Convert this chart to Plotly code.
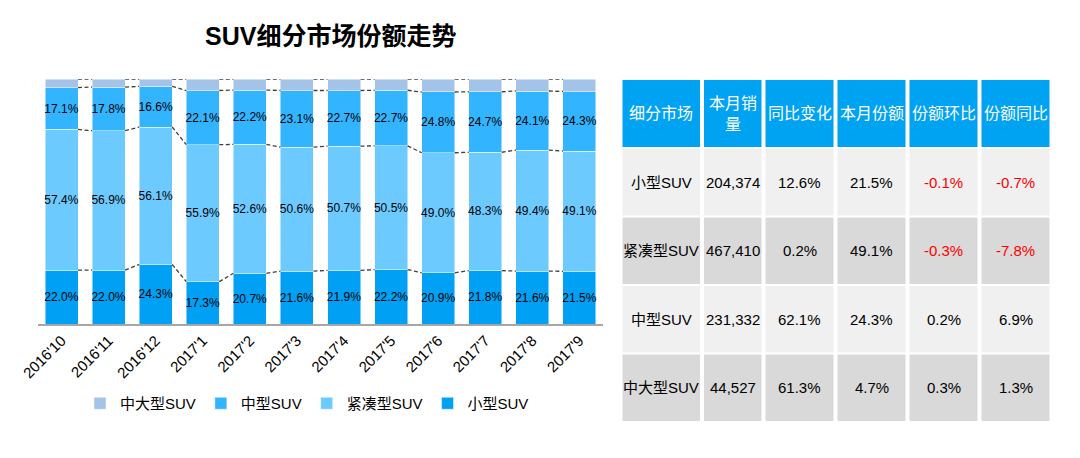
import plotly.graph_objects as go

categories = ["2016'10", "2016'11", "2016'12", "2017'1", "2017'2", "2017'3",
              "2017'4", "2017'5", "2017'6", "2017'7", "2017'8", "2017'9"]
small = [22.0, 22.0, 24.3, 17.3, 20.7, 21.6, 21.9, 22.2, 20.9, 21.8, 21.6, 21.5]
compact = [57.4, 56.9, 56.1, 55.9, 52.6, 50.6, 50.7, 50.5, 49.0, 48.3, 49.4, 49.1]
mid = [17.1, 17.8, 16.6, 22.1, 22.2, 23.1, 22.7, 22.7, 24.8, 24.7, 24.1, 24.3]
large = [round(100 - a - b - c, 1) for a, b, c in zip(small, compact, mid)]

series_names = ["小型SUV", "紧凑型SUV", "中型SUV", "中大型SUV"]
colors = ["#00A0F4", "#6DCAFF", "#33B4FF", "#A3C3E8"]

tbl_header = ["细分市场", "本月销<br>量", "同比变化", "本月份额", "份额环比", "份额同比"]
tbl_segment = ["小型SUV", "紧凑型SUV", "中型SUV", "中大型SUV"]
tbl_sales = ["204,374", "467,410", "231,332", "44,527"]
tbl_yoy = ["12.6%", "0.2%", "62.1%", "61.3%"]
tbl_share = ["21.5%", "49.1%", "24.3%", "4.7%"]
tbl_share_mom = ["-0.1%", "-0.3%", "0.2%", "0.3%"]
tbl_share_yoy = ["-0.7%", "-7.8%", "6.9%", "1.3%"]

FONT = "Liberation Sans, Arial, Noto Sans CJK SC, sans-serif"
W, H = 1080, 458
OX, OY = 8, 8  # page body margin offset


def px(x):
    return (x - OX) / W


def py(y):
    return 1 - (y - OY) / H


fig = go.Figure()
xs = list(range(len(categories)))
BW = 0.70
stack = [small, compact, mid, large]
for i, (vals, name, col) in enumerate(zip(stack, series_names, colors)):
    fig.add_trace(go.Bar(
        x=xs, y=vals, name=name, width=BW,
        marker=dict(color=col, line=dict(color="rgba(255,255,255,0.6)", width=0.8)),
        text=[f"{v:.1f}%" for v in vals] if i < 3 else None,
        textposition="inside" if i < 3 else "none",
        insidetextanchor="middle", textangle=0, constraintext="none",
        textfont=dict(color="black", size=12, family=FONT),
        hoverinfo="skip",
    ))

# dashed connector lines at segment boundaries
cum = [0.0] * len(categories)
for vals in stack:
    cum = [c + v for c, v in zip(cum, vals)]
    lx, ly = [], []
    for j in range(len(categories) - 1):
        lx += [xs[j] + BW / 2, xs[j + 1] - BW / 2, None]
        ly += [cum[j], cum[j + 1], None]
    fig.add_trace(go.Scatter(x=lx, y=ly, mode="lines", showlegend=False,
                             line=dict(color="#404040", width=1.3, dash="4px,2.5px"),
                             hoverinfo="skip"))

fig.update_layout(
    barmode="stack",
    width=W, height=H,
    margin=dict(l=0, r=0, t=0, b=0, autoexpand=False),
    paper_bgcolor="white", plot_bgcolor="white",
    font=dict(family=FONT, color="black"),
    xaxis=dict(domain=[px(38), px(603)], range=[-0.5, len(categories) - 0.5],
               tickvals=xs, ticktext=categories, tickangle=-45, automargin=False,
               tickfont=dict(size=15, color="black"),
               showline=True, linecolor="#A6A6A6", linewidth=2,
               showgrid=False, zeroline=False, ticks=""),
    yaxis=dict(domain=[py(324), py(79)], range=[0, 100], automargin=False,
               visible=False, showgrid=False),
    legend=dict(orientation="h", traceorder="reversed",
                x=px(80), y=py(387), xanchor="left", yanchor="top",
                font=dict(size=15, color="black"),
                itemwidth=30),
    showlegend=True,
)

fig.add_annotation(text="<b>SUV细分市场份额走势</b>", xref="paper", yref="paper",
                   x=px(330), y=py(36), xanchor="center", yanchor="middle",
                   showarrow=False, font=dict(size=25, color="black", family=FONT))

# ---- table drawn with shapes + annotations ----
col_w = [77.5, 57.5, 68, 68, 68, 68]
col_gap = 4
row_gap = 2
header_h = 67
row_h = 66.5
tx0, ty0 = 622.5, 80
row_fill = ["#F0F0F0", "#D9D9D9", "#F0F0F0", "#D9D9D9"]
cols = [tbl_segment, tbl_sales, tbl_yoy, tbl_share, tbl_share_mom, tbl_share_yoy]

x_left = []
x = tx0
for w in col_w:
    x_left.append(x)
    x += w + col_gap

for c, (xl, w) in enumerate(zip(x_left, col_w)):
    fig.add_shape(type="rect", xref="paper", yref="paper",
                  x0=px(xl), x1=px(xl + w), y0=py(ty0 + header_h), y1=py(ty0),
                  fillcolor="#00A2F2", line=dict(width=0), layer="below")
    fig.add_annotation(text=tbl_header[c], xref="paper", yref="paper",
                       x=px(xl + w / 2), y=py(ty0 + header_h / 2),
                       xanchor="center", yanchor="middle", showarrow=False,
                       font=dict(size=16, color="white", family=FONT))
    for r, val in enumerate(cols[c]):
        top = ty0 + header_h + row_gap + r * (row_h + row_gap)
        fig.add_shape(type="rect", xref="paper", yref="paper",
                      x0=px(xl), x1=px(xl + w), y0=py(top + row_h), y1=py(top),
                      fillcolor=row_fill[r], line=dict(width=0), layer="below")
        color = "#FF0000" if (c >= 4 and val.startswith("-")) else "black"
        fig.add_annotation(text=val, xref="paper", yref="paper",
                           x=px(xl + w / 2), y=py(top + row_h / 2),
                           xanchor="center", yanchor="middle", showarrow=False,
                           font=dict(size=15, color=color, family=FONT))

fig.write_html("out.html")
